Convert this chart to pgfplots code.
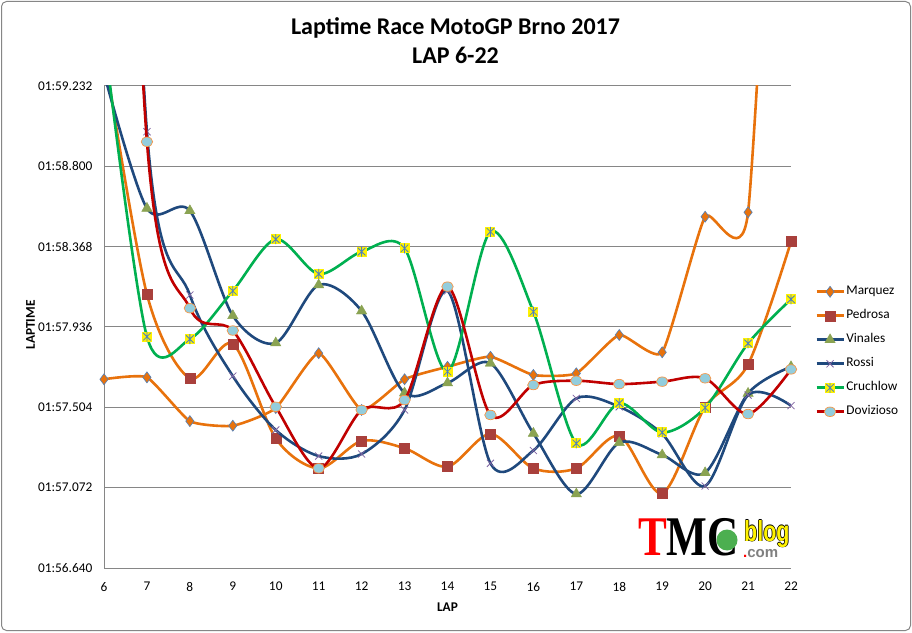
\documentclass[border=0pt]{standalone}
\usepackage{fontspec}
\setmainfont{Carlito}
\newfontfamily\logoserif{Liberation Serif}
\newfontfamily\logosans{Liberation Sans}
\usepackage{pgfplots}
\pgfplotsset{compat=1.18}
\usepackage{pgfplotstable}
\usetikzlibrary{plotmarks}

\definecolor{morange}{HTML}{E8720C}
\definecolor{dblue}{HTML}{1F497D}
\definecolor{mgreen}{HTML}{00B050}
\definecolor{mred}{HTML}{C00000}
\definecolor{diaedge}{HTML}{4F81BD}
\definecolor{sqfill}{HTML}{A9403C}
\definecolor{trifill}{HTML}{8AA352}
\definecolor{xpur}{HTML}{8064A2}
\definecolor{ltblue}{HTML}{93CDDD}
\definecolor{ltorange}{HTML}{F79646}
\definecolor{gridg}{HTML}{868686}
\definecolor{starblue}{HTML}{4F81BD}
\definecolor{logogreen}{HTML}{4CAF50}

\pgfdeclareplotmark{ysqstar}{%
  \pgfscope
  \pgfpathrectangle{\pgfqpoint{-\pgfplotmarksize}{-\pgfplotmarksize}}{\pgfqpoint{2\pgfplotmarksize}{2\pgfplotmarksize}}%
  \pgfsetfillcolor{yellow}%
  \pgfusepathqfill
  \pgfsetstrokecolor{starblue}%
  \pgfsetlinewidth{0.8pt}%
  \pgfpathmoveto{\pgfqpoint{0pt}{-\pgfplotmarksize}}\pgfpathlineto{\pgfqpoint{0pt}{\pgfplotmarksize}}%
  \pgfpathmoveto{\pgfqpoint{-.75\pgfplotmarksize}{-.75\pgfplotmarksize}}\pgfpathlineto{\pgfqpoint{.75\pgfplotmarksize}{.75\pgfplotmarksize}}%
  \pgfpathmoveto{\pgfqpoint{-.75\pgfplotmarksize}{.75\pgfplotmarksize}}\pgfpathlineto{\pgfqpoint{.75\pgfplotmarksize}{-.75\pgfplotmarksize}}%
  \pgfusepathqstroke
  \endpgfscope
}

% lap times in seconds (01:57.504 = 117.504)
\pgfplotstableread{
lap t
6 117.655
7 117.665
8 117.430
9 117.405
10 117.500
11 117.795
12 117.490
13 117.655
14 117.722
15 117.776
16 117.678
17 117.687
18 117.893
19 117.800
20 118.529
21 118.553
22 122.500
}\marquez
\pgfplotstableread{
lap t
6 119.420
7 118.112
8 117.660
9 117.845
10 117.337
11 117.176
12 117.323
13 117.284
14 117.185
15 117.361
16 117.176
17 117.176
18 117.350
19 117.042
20 117.506
21 117.735
22 118.395
}\pedrosa
\pgfplotstableread{
lap t
6 119.300
7 118.574
8 118.561
9 117.997
10 117.850
11 118.162
12 118.022
13 117.581
14 117.635
15 117.741
16 117.364
17 117.038
18 117.314
19 117.248
20 117.152
21 117.579
22 117.722
}\vinales
\pgfplotstableread{
lap t
6 124.000
7 118.986
8 118.108
9 117.672
10 117.382
11 117.242
12 117.253
13 117.490
14 118.130
15 117.203
16 117.272
17 117.552
18 117.507
19 117.361
20 117.081
21 117.570
22 117.513
}\rossi
\pgfplotstableread{
lap t
6 119.500
7 117.884
8 117.871
9 118.130
10 118.408
11 118.221
12 118.341
13 118.359
14 117.696
15 118.448
16 118.018
17 117.310
18 117.526
19 117.369
20 117.502
21 117.848
22 118.085
}\cruchlow
\pgfplotstableread{
lap t
6 124.000
7 118.932
8 118.037
9 117.917
10 117.507
11 117.176
12 117.490
13 117.543
14 118.153
15 117.463
16 117.624
17 117.647
18 117.629
19 117.642
20 117.660
21 117.468
22 117.708
}\dovizioso

\begin{document}
\begin{tikzpicture}
\fill[white] (0pt,0pt) rectangle (912pt,632pt);
\path[use as bounding box] (0pt,0pt) rectangle (912pt,632pt);
\draw[gridg, line width=1pt, rounded corners=5pt] (1.5pt,1.5pt) rectangle (910.5pt,630.5pt);
\begin{axis}[
  at={(104pt,64pt)}, anchor=south west,
  scale only axis, width=687pt, height=482pt,
  xmin=6, xmax=22, ymin=116.640, ymax=119.232,
  xtick={6,...,22},
  ytick={116.640,117.072,117.504,117.936,118.368,118.800,119.232},
  yticklabels={01:56.640,01:57.072,01:57.504,01:57.936,01:58.368,01:58.800,01:59.232},
  /pgf/number format/assume math mode=true,
  axis x line=bottom, axis y line=left,
  axis line style={-, gridg, line width=1pt},
  major tick length=0pt,
  ymajorgrids, grid style={gridg, line width=1pt},
  tick label style={font=\fontsize{13.33}{15}\selectfont, text=black},
  yticklabel style={inner sep=0pt, anchor=east, xshift=-11.5pt},
  xticklabel style={inner sep=0pt, anchor=north, yshift=-14pt},
  clip mode=individual,
  linestyle/.style={smooth, line width=2.6pt, forget plot},
  markstyle/.style={only marks, forget plot, restrict y to domain=116.5:119.3},
  legend style={draw=none, fill=none, at={(1.035,0.589)}, anchor=north west,
    font=\fontsize{13.33}{15}\selectfont, row sep=9pt, inner sep=0pt,
    nodes={inner sep=1.5pt, text height=9pt, text depth=3pt},
    /tikz/every odd column/.append style={column sep=0pt}},
  legend cell align=left,
  legend image code/.code={\draw[mark repeat=2,mark phase=2] plot coordinates {(0pt,0pt)(13.5pt,0pt)(27pt,0pt)};},
]
% Marquez
\addplot[morange, linestyle, tension=0.3] table[x=lap,y=t] {\marquez};
\addplot[markstyle, mark=diamond*, mark size=5.5pt, mark options={fill=morange, draw=diaedge, line width=0.6pt}] table[x=lap,y=t] {\marquez};
% Pedrosa
\addplot[morange, linestyle] table[x=lap,y=t] {\pedrosa};
\addplot[markstyle, mark=square*, mark size=5pt, mark options={fill=sqfill, draw=sqfill, line width=0.4pt}] table[x=lap,y=t] {\pedrosa};
% Vinales
\addplot[dblue, linestyle] table[x=lap,y=t] {\vinales};
\addplot[markstyle, mark=triangle*, mark size=6pt, mark options={fill=trifill, draw=trifill, line width=0.4pt}] table[x=lap,y=t] {\vinales};
% Rossi
\addplot[dblue, linestyle] table[x=lap,y=t] {\rossi};
\addplot[markstyle, mark=x, mark size=5pt, mark options={draw=xpur, line width=0.8pt}] table[x=lap,y=t] {\rossi};
% Cruchlow
\addplot[mgreen, linestyle] table[x=lap,y=t] {\cruchlow};
\addplot[markstyle, mark=ysqstar, mark size=5pt] table[x=lap,y=t] {\cruchlow};
% Dovizioso
\addplot[mred, linestyle] table[x=lap,y=t] {\dovizioso};
\addplot[markstyle, mark=*, mark size=5pt, mark options={fill=ltblue, draw=ltorange, line width=0.7pt, xscale=1.15, yscale=0.95}] table[x=lap,y=t] {\dovizioso};
% legend
\addlegendimage{morange, line width=2.6pt, mark=diamond*, mark size=5.5pt, mark options={fill=morange, draw=diaedge, line width=0.6pt}}
\addlegendentry{Marquez}
\addlegendimage{morange, line width=2.6pt, mark=square*, mark size=5pt, mark options={fill=sqfill, draw=sqfill, line width=0.4pt}}
\addlegendentry{Pedrosa}
\addlegendimage{dblue, line width=2.6pt, mark=triangle*, mark size=6pt, mark options={fill=trifill, draw=trifill, line width=0.4pt}}
\addlegendentry{Vinales}
\addlegendimage{dblue, line width=2.6pt, mark=x, mark size=5pt, mark options={draw=xpur, line width=0.8pt}}
\addlegendentry{Rossi}
\addlegendimage{mgreen, line width=2.6pt, mark=ysqstar, mark size=5pt}
\addlegendentry{Cruchlow}
\addlegendimage{mred, line width=2.6pt, mark=*, mark size=5pt, mark options={fill=ltblue, draw=ltorange, line width=0.7pt, xscale=1.15, yscale=0.95}}
\addlegendentry{Dovizioso}
\end{axis}
% titles
\node[anchor=base, inner sep=0pt, font=\fontsize{24}{28}\selectfont\bfseries] at (455.5pt,597.5pt) {Laptime Race MotoGP Brno 2017};
\node[anchor=base, inner sep=0pt, font=\fontsize{24}{28}\selectfont\bfseries] at (455.5pt,568.7pt) {LAP 6-22};
\node[anchor=base, inner sep=0pt, font=\fontsize{13.33}{15}\selectfont\bfseries] at (447.5pt,21pt) {LAP};
\node[anchor=center, rotate=90, inner sep=0pt, font=\fontsize{13.33}{15}\selectfont\bfseries] at (30.5pt,307pt) {LAPTIME};
% logo
\node[anchor=base west, inner sep=0pt] at (638pt,77pt) {\scalebox{0.77}[1]{\logoserif\bfseries\fontsize{56}{56}\selectfont\textcolor{red}{T}MC}};
\fill[logogreen] (727pt,92pt) circle (10.5pt);
\foreach \dx/\dy in {0.7/0,-0.7/0,0/0.7,0/-0.7}{
  \node[anchor=base west, inner sep=0pt, text=black] at (744pt+\dx pt,91pt+\dy pt) {\logosans\bfseries\fontsize{29}{29}\selectfont\scalebox{0.74}[1]{blog}};
}
\node[anchor=base west, inner sep=0pt, text=yellow] at (744pt,91pt) {\logosans\bfseries\fontsize{29}{29}\selectfont\scalebox{0.74}[1]{blog}};
\node[anchor=base west, inner sep=0pt] at (743pt,75pt) {\logosans\bfseries\fontsize{15}{15}\selectfont\textcolor{red}{.}\textcolor{gray}{com}};
\end{tikzpicture}
\end{document}
